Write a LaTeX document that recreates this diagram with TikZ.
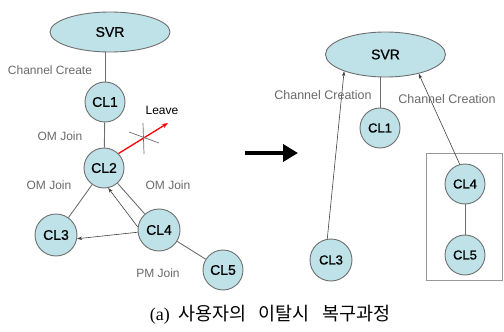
\documentclass[tikz,border=0pt]{standalone}
\usepackage{fontspec}
\setmainfont{Liberation Sans}
\newfontfamily\serifcap{Liberation Serif}
\newfontfamily\krfont{Noto Sans CJK KR}
\newfontfamily\nodefont[FakeBold=0.8]{Liberation Sans}
\usetikzlibrary{shapes.geometric,arrows.meta}
\definecolor{nodefill}{RGB}{190,226,232}
\definecolor{edgegray}{RGB}{110,110,110}
\definecolor{labelgray}{RGB}{105,105,105}
\tikzset{
  clnode/.style={circle, draw=edgegray, fill=nodefill, line width=0.9pt, minimum size=40pt, inner sep=0pt, font=\nodefont\fontsize{14}{14}\selectfont},
  clsmall/.style={clnode, minimum size=40pt, font=\nodefont\fontsize{13}{13}\selectfont},
  svrnode/.style={ellipse, draw=edgegray, fill=nodefill, line width=0.9pt, minimum width=120pt, minimum height=40pt, inner sep=0pt, font=\nodefont\fontsize{14}{14}\selectfont},
  plainedge/.style={draw=edgegray, line width=0.9pt},
  arredge/.style={draw=black!75, line width=0.6pt, -{Stealth[length=5pt,width=3.5pt]}},
  lbl/.style={text=labelgray, font=\fontsize{12}{12}\selectfont, inner sep=0pt},
}
\begin{document}
\begin{tikzpicture}[x=1pt,y=-1pt]
\useasboundingbox (0,0) rectangle (504,332);
% ---------- left ----------
\node[svrnode] (svrL) at (110,32) {SVR};
\node[clnode] (cl1L) at (105,102) {CL1};
\node[clnode] (cl2L) at (104,168) {CL2};
\node[clnode, minimum size=42pt] (cl3L) at (56,235) {CL3};
\node[clnode, minimum size=42pt] (cl4L) at (159,230) {CL4};
\node[clnode] (cl5L) at (223,270) {CL5};

\draw[plainedge] (cl1L.north) -- (cl1L.north |- svrL.south);
\draw[plainedge] (cl1L) -- (cl2L);
\draw[plainedge] (cl2L) -- (cl3L);
\draw[plainedge] (cl2L) -- (cl4L);
\draw[plainedge] (cl4L) -- (cl5L);
\draw[arredge] (cl4L.172) -- (cl2L.282);
\draw[arredge] (cl4L.186) -- (cl3L.-10);

\coordinate (leaveEnd) at (168,123);
\draw[red, line width=1.3pt, -{Stealth[length=6pt,width=4.5pt]}] (cl2L.45) -- (leaveEnd);
\coordinate (crA1) at (129,132);
\coordinate (crA2) at (159,143);
\coordinate (crB1) at (143,123);
\coordinate (crB2) at (144,154);
\draw[edgegray, line width=0.7pt] (crA1) -- (crA2);
\draw[edgegray, line width=0.7pt] (crB1) -- (crB2);

\node[lbl] (lblCC) at (50,70) {Channel Create};
\node[lbl] (lblOM1) at (60,136) {OM Join};
\node[lbl, text=black] (lblLeave) at (162,110) {Leave};
\node[lbl] (lblOM2) at (49,185) {OM Join};
\node[lbl] (lblOM3) at (168,185) {OM Join};
\node[lbl] (lblPM) at (158,273) {PM Join};

% ---------- big arrow ----------
\coordinate (bigA) at (245,153);
\coordinate (bigB) at (298,153);
\draw[black, line width=4.3pt, -{Triangle[length=15pt,width=17pt]}] (bigA) -- (bigB);

% ---------- right ----------
\node[svrnode, minimum height=45pt] (svrR) at (385.5,54.5) {SVR};
\node[clsmall] (cl1R) at (380,128) {CL1};
\node[clsmall, minimum size=42pt] (cl3R) at (331,260) {CL3};
\node[draw=gray!80, line width=0.9pt, minimum width=76pt, minimum height=127pt, inner sep=0pt] (grp) at (464,216.5) {};
\node[clsmall] (cl4R) at (465,184) {CL4};
\node[clsmall] (cl5R) at (465,255) {CL5};

\draw[plainedge] (cl1R.north) -- (cl1R.north |- svrR.south);
\draw[plainedge] (cl4R) -- (cl5R);
\draw[arredge] (cl3R.100) -- (svrR.202);
\draw[arredge] (cl4R.105) -- (svrR.-30);

\node[lbl, font=\fontsize{12.5}{12.5}\selectfont] (lblCR1) at (323,95) {Channel Creation};
\node[lbl, font=\fontsize{12.5}{12.5}\selectfont] (lblCR2) at (447,99) {Channel Creation};

% ---------- caption ----------
\node[inner sep=0pt, anchor=center] (caption) at (270,315)
  {{\serifcap\fontsize{18}{18}\selectfont (a)}\hspace{9pt}{\krfont\fontsize{18.5}{18.5}\selectfont 사용자의\hspace{12pt}이탈시\hspace{12pt}복구과정}};
\end{tikzpicture}
\end{document}
